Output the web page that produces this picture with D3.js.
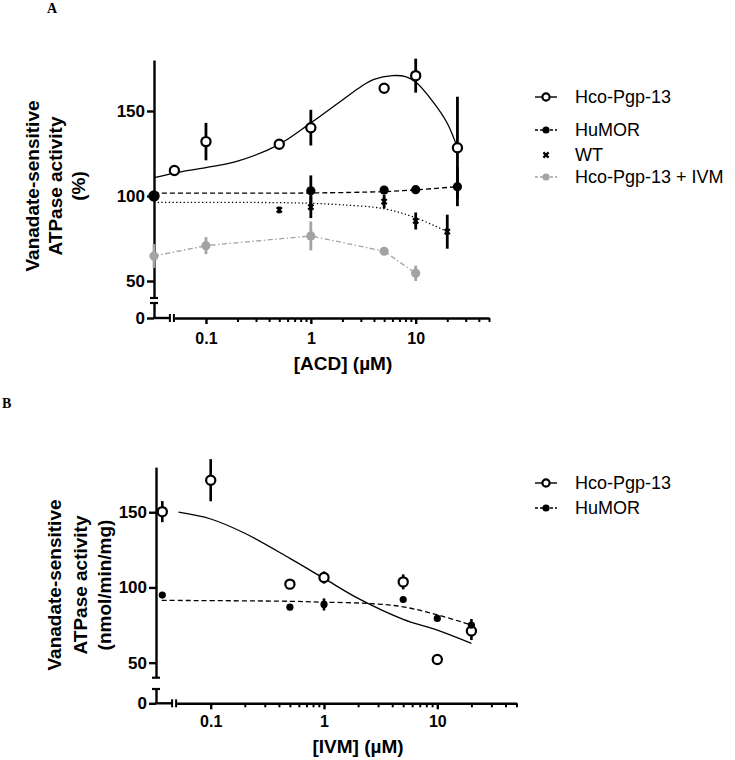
<!DOCTYPE html>
<html><head><meta charset="utf-8">
<script src="https://cdn.jsdelivr.net/npm/d3@7"></script>
<style>
html,body{margin:0;padding:0;background:#fff;}
svg{display:block;}
</style></head>
<body>
<svg id="chart" width="735" height="760"></svg>
<script>
// ---------------- DATA ----------------
// Panel A: [ACD] (µM) vs Vanadate-sensitive ATPase activity (%)
const A_hco_x   = [0, 0.05, 0.1, 0.5, 1, 5, 10, 25];
const A_hco_y   = [100, 115, 132, 130.4, 140.2, 163.4, 170.8, 128.4];
const A_hco_e   = [0, 1.5, 11, 1.5, 10.5, 1, 10, 30];
const A_hum_x   = [0, 1, 5, 10, 25];
const A_hum_y   = [100, 103.1, 103.5, 103.7, 105.5];
const A_hum_e   = [0, 9, 2, 1.5, 11.5];
const A_wt_x    = [0, 0.5, 1, 5, 10, 20];
const A_wt_y    = [100, 91.8, 93.5, 96.7, 85.3, 79];
const A_wt_e    = [0, 2, 6.5, 4, 5, 10];
const A_ivm_x   = [0, 0.1, 1, 5, 10];
const A_ivm_y   = [64.7, 70.8, 76.5, 67.5, 54.5];
const A_ivm_e   = [7, 5, 8.5, 2, 4.5];
// fitted curves
const A_hcoFit_x = [0.032, 0.05, 0.1, 0.2, 0.5, 1, 2, 3, 4, 6, 8, 10, 15, 20, 25];
const A_hcoFit_y = [110.8, 113.5, 116.7, 120.5, 130.4, 143, 156.5, 164.3, 168.6, 170.8, 170.2, 167, 154.5, 142.8, 128.4];
const A_humFit_x = [0.032, 1, 5, 10, 25];
const A_humFit_y = [101.7, 101.8, 102.6, 103.6, 105.5];
const A_wtFit_x  = [0.032, 0.5, 1, 2, 5, 10, 20];
const A_wtFit_y  = [96.3, 96.1, 95.7, 94.8, 92.5, 87.2, 79];

// Panel B: [IVM] (µM) vs Vanadate-sensitive ATPase activity (nmol/min/mg)
const B_hco_x = [0, 0.1, 0.5, 1, 5, 10, 20];
const B_hco_y = [150.4, 171.3, 102.2, 106.6, 103.7, 52.1, 71];
const B_hco_e = [7, 14, 1.5, 4, 5, 1, 6];
const B_hum_x = [0, 0.5, 1, 5, 10, 20];
const B_hum_y = [94.9, 86.9, 88.7, 92, 79.4, 75];
const B_hum_e = [1, 1, 4, 1.5, 1.5, 4];
const B_hcoFit_x = [0.052, 0.1, 0.2, 0.5, 1, 2, 5, 10, 20];
const B_hcoFit_y = [150, 145.5, 136, 119.3, 106, 92.7, 78.8, 71.6, 62.8];
const B_humFit_x = [0.037, 0.5, 1, 2.4, 5, 10, 20];
const B_humFit_y = [91.4, 90.8, 90.2, 89.4, 87.1, 81.8, 75];

// Tick labels
const yTicks = [50, 100, 150];
const yZeroTick = [0];
const xMajorTicks = [0.1, 1, 10];
const xMinorTicks = [0.2,0.3,0.4,0.5,0.6,0.7,0.8,0.9,2,3,4,5,6,7,8,9,20,30,40,50];

// Legends
const A_legend = ["Hco-Pgp-13", "HuMOR", "WT", "Hco-Pgp-13 + IVM"];
const B_legend = ["Hco-Pgp-13", "HuMOR"];

// ---------------- DRAWING ----------------
const SANS = "'Liberation Sans', Arial, Helvetica, sans-serif";
const SERIF = "'Liberation Serif', 'Times New Roman', serif";
const GRAY = "#a3a3a3";
const svg = d3.select("#chart");
const smooth = d3.curveCatmullRom.alpha(0.5);

function zip(xs, ys, es) { return xs.map((x, i) => ({x, y: ys[i], e: es ? es[i] : 0})); }

function panel(cfg) {
  const g = svg.append("g");
  const x = d3.scaleLog().domain([0.05, 50]).range([cfg.x0, cfg.x1]);
  const y = d3.scaleLinear().domain([40, 180]).range([cfg.yBreak, cfg.yTop]);
  const yLow = d3.scaleLinear().domain([0, 10]).range([cfg.yZero, cfg.yLowTop]);
  const px = d => d === 0 ? cfg.ctrlX : x(d);

  // --- Y axis upper segment
  const ya = g.append("g").attr("transform", `translate(${cfg.axX},0)`)
    .call(d3.axisLeft(y).tickValues(yTicks).tickSize(7).tickPadding(2).tickSizeOuter(0));
  // --- Y axis lower segment
  const yl = g.append("g").attr("transform", `translate(${cfg.axX},0)`)
    .call(d3.axisLeft(yLow).tickValues(yZeroTick).tickSize(7).tickPadding(2).tickSizeOuter(0));
  [ya, yl].forEach(a => {
    a.selectAll("path,line").attr("stroke", "#000").attr("stroke-width", 2.4);
    a.selectAll("text").attr("font-family", SANS).attr("font-weight", "bold").attr("font-size", 17).attr("fill", "#000");
  });
  // y break bars
  [cfg.yBreak, cfg.yLowTop].forEach(v => {
    g.append("line").attr("x1", cfg.axX - 4).attr("x2", cfg.axX + 4).attr("y1", v).attr("y2", v)
      .attr("stroke", "#000").attr("stroke-width", 2.2);
  });

  // --- X axis zero segment
  g.append("line").attr("x1", cfg.axX - 1).attr("x2", cfg.x0 - 4.5).attr("y1", cfg.yZero).attr("y2", cfg.yZero)
    .attr("stroke", "#000").attr("stroke-width", 2.4);
  [cfg.x0 - 4.5, cfg.x0 - 0.5].forEach(v => {
    g.append("line").attr("x1", v).attr("x2", v).attr("y1", cfg.yZero - 4).attr("y2", cfg.yZero + 4)
      .attr("stroke", "#000").attr("stroke-width", 2);
  });
  // --- X axis main
  const xa = g.append("g").attr("transform", `translate(0,${cfg.yZero})`)
    .call(d3.axisBottom(x).tickValues(xMajorTicks).tickFormat(d3.format("~g")).tickSize(6).tickPadding(cfg.xPad).tickSizeOuter(0));
  xa.selectAll("path,line").attr("stroke", "#000").attr("stroke-width", 2.4);
  xa.selectAll("text").attr("font-family", SANS).attr("font-weight", "bold").attr("font-size", 16).attr("fill", "#000");
  const xm = g.append("g").attr("transform", `translate(0,${cfg.yZero})`)
    .call(d3.axisBottom(x).tickValues(xMinorTicks).tickFormat("").tickSize(4).tickSizeOuter(0));
  xm.select("path").remove();
  xm.selectAll("line").attr("stroke", "#000").attr("stroke-width", 2);

  // --- Titles
  g.append("text").attr("x", cfg.xTitleX).attr("y", cfg.xTitleY).attr("text-anchor", "middle")
    .attr("font-family", SANS).attr("font-weight", "bold").attr("font-size", 19).text(cfg.xTitle);
  cfg.yTitle.forEach((t, i) => {
    g.append("text").attr("transform", `translate(${cfg.yTitleX[i]},${cfg.yTitleY}) rotate(-90)`)
      .attr("text-anchor", "middle").attr("dy", "0.35em")
      .attr("font-family", SANS).attr("font-weight", "bold").attr("font-size", 19).text(t);
  });
  g.append("text").attr("x", cfg.labelX).attr("y", cfg.labelY)
    .attr("font-family", SERIF).attr("font-weight", "bold").attr("font-size", 14).text(cfg.label);

  // --- fitted / connecting lines
  cfg.lines.forEach(L => {
    const line = d3.line().x(d => px(d.x)).y(d => y(d.y)).curve(L.curve || d3.curveLinear);
    g.append("path").datum(L.data).attr("fill", "none")
      .attr("stroke", L.color).attr("stroke-width", L.width || 1.3)
      .attr("stroke-dasharray", L.dash || null)
      .attr("d", line);
  });

  // --- error bars
  cfg.series.forEach(S => {
    g.append("g").selectAll("line").data(S.data.filter(d => d.e > 0)).join("line")
      .attr("x1", d => px(d.x)).attr("x2", d => px(d.x))
      .attr("y1", d => y(d.y - d.e)).attr("y2", d => y(d.y + d.e))
      .attr("stroke", S.color).attr("stroke-width", S.ebw || 2.8);
  });
  // --- markers
  cfg.series.forEach(S => {
    const mg = g.append("g");
    S.data.forEach(d => drawMarker(mg, S.marker, px(d.x), y(d.y), S.color, S.r));
  });

  // --- legend
  cfg.legend.forEach((Lg, i) => {
    const ly = cfg.legendY[i];
    if (Lg.dash !== undefined) {
      g.append("line").attr("x1", 535).attr("x2", 557).attr("y1", ly).attr("y2", ly)
        .attr("stroke", Lg.color).attr("stroke-width", 1.4).attr("stroke-dasharray", Lg.dash || null);
    }
    drawMarker(g, Lg.marker, 546, ly, Lg.color, 3.6);
    g.append("text").attr("x", 575).attr("y", ly).attr("dy", "0.35em")
      .attr("font-family", SANS).attr("font-size", 18).attr("fill", "#000").text(Lg.name);
  });
}

function drawMarker(g, type, cx, cy, color, r) {
  if (type === "open") {
    g.append("circle").attr("cx", cx).attr("cy", cy).attr("r", r || 4.6)
      .attr("fill", "#fff").attr("stroke", color).attr("stroke-width", 2.2);
  } else if (type === "filled") {
    g.append("circle").attr("cx", cx).attr("cy", cy).attr("r", r || 4.6).attr("fill", color);
  } else if (type === "x") {
    const s = 2.6;
    g.append("path").attr("d", `M${cx - s},${cy - s}L${cx + s},${cy + s}M${cx - s},${cy + s}L${cx + s},${cy - s}`)
      .attr("stroke", color).attr("stroke-width", 2.2).attr("fill", "none");
  }
}

// ---- Panel A
panel({
  label: "A", labelX: 47, labelY: 13,
  axX: 154, x0: 174.4, x1: 489, ctrlX: 154,
  yTop: 60, yBreak: 298, yLowTop: 303, yZero: 318, xPad: 9,
  xTitle: "[ACD] (µM)", xTitleX: 343, xTitleY: 370,
  yTitle: ["Vanadate-sensitive", "ATPase activity", "(%)"], yTitleX: [32, 55, 78], yTitleY: 186,
  lines: [
    {data: zip(A_hcoFit_x, A_hcoFit_y), color: "#000", curve: smooth},
    {data: zip(A_humFit_x, A_humFit_y), color: "#000", dash: "5,3", curve: smooth},
    {data: zip(A_wtFit_x, A_wtFit_y), color: "#000", dash: "1.3,2.4", curve: smooth},
    {data: zip(A_ivm_x, A_ivm_y), color: GRAY, dash: "5,2.5,1.5,2.5"}
  ],
  series: [
    {data: zip(A_wt_x, A_wt_y, A_wt_e), color: "#000", marker: "x"},
    {data: zip(A_hco_x, A_hco_y, A_hco_e), color: "#000", marker: "open"},
    {data: zip(A_hum_x, A_hum_y, A_hum_e), color: "#000", marker: "filled"},
    {data: zip(A_ivm_x, A_ivm_y, A_ivm_e), color: GRAY, marker: "filled"}
  ],
  legend: [
    {name: A_legend[0], marker: "open", color: "#000", dash: ""},
    {name: A_legend[1], marker: "filled", color: "#000", dash: "3,2"},
    {name: A_legend[2], marker: "x", color: "#000"},
    {name: A_legend[3], marker: "filled", color: GRAY, dash: "3,2"}
  ],
  legendY: [97, 130, 155, 177]
});

// ---- Panel B
panel({
  label: "B", labelX: 2, labelY: 408,
  axX: 156, x0: 176.6, x1: 516.5, ctrlX: 162.3,
  yTop: 467.1, yBreak: 677.7, yLowTop: 689, yZero: 703.3, xPad: 6,
  xTitle: "[IVM] (µM)", xTitleX: 358, xTitleY: 753,
  yTitle: ["Vanadate-sensitive", "ATPase activity", "(nmol/min/mg)"], yTitleX: [54, 80, 104], yTitleY: 585,
  lines: [
    {data: zip(B_hcoFit_x, B_hcoFit_y), color: "#000", curve: smooth},
    {data: zip(B_humFit_x, B_humFit_y), color: "#000", dash: "5,3", curve: smooth}
  ],
  series: [
    {data: zip(B_hco_x, B_hco_y, B_hco_e), color: "#000", marker: "open", ebw: 2.6},
    {data: zip(B_hum_x, B_hum_y, B_hum_e), color: "#000", marker: "filled", r: 3.6, ebw: 2.6}
  ],
  legend: [
    {name: B_legend[0], marker: "open", color: "#000", dash: ""},
    {name: B_legend[1], marker: "filled", color: "#000", dash: "3,2"}
  ],
  legendY: [483, 508]
});
</script>
</body></html>
